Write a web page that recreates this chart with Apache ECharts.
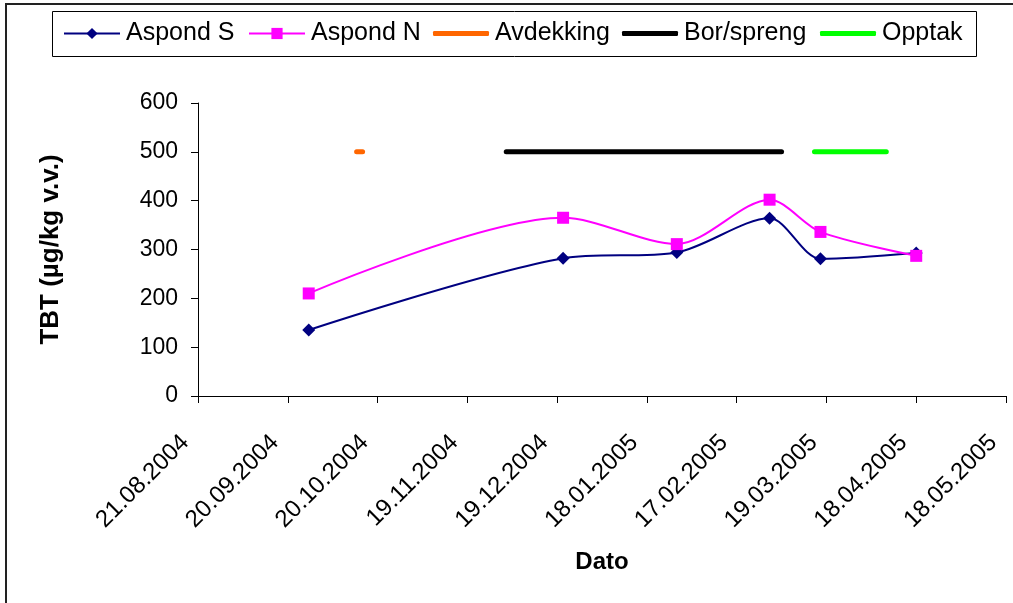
<!DOCTYPE html>
<html>
<head>
<meta charset="utf-8">
<script src="https://cdn.jsdelivr.net/npm/echarts@6/dist/echarts.min.js"></script>
<style>
  html, body { margin: 0; padding: 0; background: #fff; }
  #chart { width: 1013px; height: 603px; }
</style>
</head>
<body>
<div id="chart"></div>
<script>
// prøvedatoer og TBT-verdier (µg/kg v.v.)
var sampleDates = ['27.09.2004', '21.12.2004', '28.01.2005', '28.02.2005', '17.03.2005', '18.04.2005'];
var aspondS = [135, 282, 294, 364, 281, 293];
var aspondN = [210, 365, 311, 402, 336, 287];

// anleggsperioder, vist som streker ved 500
var eventLevel = 500;
var avdekking = ['13.10.2004', '15.10.2004'];
var borSpreng = ['02.12.2004', '04.03.2005'];
var opptak = ['15.03.2005', '08.04.2005'];

// x-akse: dager fra 21.08.2004, merker hver 30. dag
var axisStart = '21.08.2004';
var axisDays = 270;
var axisStep = 30;
var yMax = 600;
var yStep = 100;

var DAY = 86400000;

function parseDate(s) {
    var p = s.split('.');
    return Date.UTC(+p[2], +p[1] - 1, +p[0]);
}

var origin = parseDate(axisStart);

function dayOf(s) {
    return Math.round((parseDate(s) - origin) / DAY);
}

function fmtDay(v) {
    var d = new Date(origin + v * DAY);
    var dd = ('0' + d.getUTCDate()).slice(-2);
    var mm = ('0' + (d.getUTCMonth() + 1)).slice(-2);
    return dd + '.' + mm + '.' + d.getUTCFullYear();
}

function pairs(dates, vals) {
    return dates.map(function (d, i) {
        return [dayOf(d), vals[i]];
    });
}

function period(p) {
    return [[dayOf(p[0]), eventLevel], [dayOf(p[1]), eventLevel]];
}

var font = 'Liberation Sans, Arial, sans-serif';

function eventSeries(name, p, color) {
    return {
        name: name,
        type: 'line',
        data: period(p),
        symbol: 'none',
        lineStyle: {color: color, width: 5, cap: 'round'},
        itemStyle: {color: color},
        z: 3
    };
}

function legendAt(name, left, isEvent) {
    var l = {
        data: [name],
        left: left,
        top: 21,
        padding: 0,
        itemWidth: 56,
        itemHeight: isEvent ? 5 : 14,
        itemGap: 0,
        textStyle: {fontFamily: font, fontSize: 25, color: '#000', padding: [0, 0, 0, 1]}
    };
    if (isEvent) {
        l.icon = 'roundRect';
    }
    return l;
}

var chart = echarts.init(document.getElementById('chart'));

var option = {
    animation: false,
    backgroundColor: '#fff',
    textStyle: {fontFamily: font},
    grid: {left: 198, right: 7, top: 103, bottom: 207, containLabel: false, outerBoundsMode: 'none'},
    legend: [
        legendAt('Aspond S', 63, false),
        legendAt('Aspond N', 248, false),
        legendAt('Avdekking', 433, true),
        legendAt('Bor/spreng', 622, true),
        legendAt('Opptak', 820, true)
    ],
    graphic: [
        {
            type: 'rect',
            shape: {x: 6, y: 4, width: 1100, height: 700},
            style: {fill: null, stroke: '#222', lineWidth: 2},
            silent: true
        },
        {
            type: 'rect',
            shape: {x: 52.5, y: 11.5, width: 924, height: 45},
            style: {fill: null, stroke: '#000', lineWidth: 1},
            silent: true
        }
    ],
    xAxis: {
        type: 'value',
        min: 0,
        max: axisDays,
        interval: axisStep,
        name: 'Dato',
        nameLocation: 'middle',
        nameGap: 154,
        nameTextStyle: {fontFamily: font, fontSize: 24, fontWeight: 'bold', color: '#000'},
        axisLine: {show: true, onZero: false, lineStyle: {color: '#000', width: 1}},
        axisTick: {show: true, inside: false, length: 7, lineStyle: {color: '#000'}},
        splitLine: {show: false},
        axisLabel: {
            rotate: 45,
            margin: 47,
            verticalAlign: 'bottom',
            padding: [0, 6, 0, 0],
            fontFamily: font,
            fontSize: 24,
            color: '#000',
            showMinLabel: true,
            showMaxLabel: true,
            formatter: fmtDay
        }
    },
    yAxis: {
        type: 'value',
        min: 0,
        max: yMax,
        interval: yStep,
        name: 'TBT (µg/kg v.v.)',
        nameLocation: 'middle',
        nameRotate: 90,
        nameGap: 134,
        nameTextStyle: {fontFamily: font, fontSize: 26, fontWeight: 'bold', color: '#000'},
        axisLine: {show: true, lineStyle: {color: '#000', width: 1}},
        axisTick: {show: true, inside: false, length: 7, lineStyle: {color: '#000'}},
        splitLine: {show: false},
        axisLabel: {margin: 20, fontFamily: font, fontSize: 23, color: '#000'}
    },
    series: [
        {
            name: 'Aspond S',
            type: 'line',
            data: pairs(sampleDates, aspondS),
            smooth: 0.3,
            symbol: 'diamond',
            symbolSize: 13,
            lineStyle: {color: '#000080', width: 2},
            itemStyle: {color: '#000080'},
            z: 4
        },
        {
            name: 'Aspond N',
            type: 'line',
            data: pairs(sampleDates, aspondN),
            smooth: 0.3,
            symbol: 'rect',
            symbolSize: 12,
            lineStyle: {color: '#ff00ff', width: 2},
            itemStyle: {color: '#ff00ff'},
            z: 5
        },
        eventSeries('Avdekking', avdekking, '#ff6600'),
        eventSeries('Bor/spreng', borSpreng, '#000000'),
        eventSeries('Opptak', opptak, '#00ff00')
    ]
};

chart.setOption(option);
</script>
</body>
</html>
